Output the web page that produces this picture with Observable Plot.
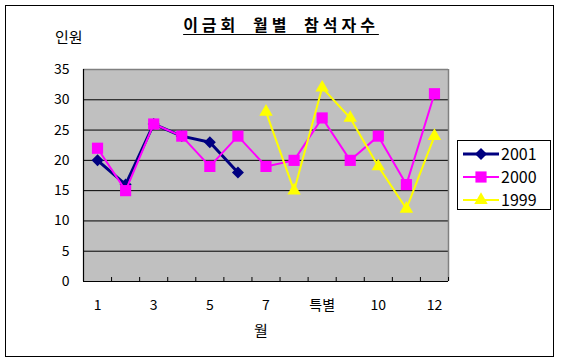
<!DOCTYPE html>
<html>
<head>
<meta charset="utf-8">
<script src="https://cdn.jsdelivr.net/npm/d3@7"></script>
<script src="https://cdn.jsdelivr.net/npm/@observablehq/plot@0.6"></script>
<style>
  html, body { margin: 0; padding: 0; background: #fff; }
  #wrap { position: relative; width: 562px; height: 363px; font-family: "Noto Sans CJK KR", "Noto Sans", sans-serif; color: #000; }
  #border { position: absolute; left: 5px; top: 5px; width: 547px; height: 350px; border: 1.5px solid #000; box-sizing: content-box; }
  .lbl { position: absolute; white-space: nowrap; line-height: 1; }
  #title { left: 0; width: 562px; text-align: center; top: 16px; font-size: 16px; font-weight: bold; }
  #title span { text-decoration: underline; text-underline-offset: 3px; letter-spacing: 4px; word-spacing: 6px; }
  #ylab { left: 55px; top: 29px; font-size: 15px; }
  #xlab { left: 254px; top: 322px; font-size: 15px; }
  #legend { position: absolute; left: 457px; top: 140px; }
  svg.plot { position: absolute; left: 0; top: 0; }
</style>
</head>
<body>
<div id="wrap">
  <div id="border"></div>
  <div id="title" class="lbl"><span>이금회 월별 참석자수</span></div>
  <div id="ylab" class="lbl">인원</div>
  <div id="xlab" class="lbl">월</div>
  <div id="chart"></div>
  <div id="legend"></div>
</div>
<script>
// ---- data ----
const categories = ["1","2","3","4","5","6","7","8","특별","9","10","11","12"];
const seriesNames = ["2001", "2000", "1999"];
const values2001 = [20, 16, 26, 24, 23, 18];
const values2000 = [22, 15, 26, 24, 19, 24, 19, 20, 27, 20, 24, 16, 31];
const values1999 = [null, null, null, null, null, null, 28, 15, 32, 27, 19, 12, 24];
const yTicks = [0, 5, 10, 15, 20, 25, 30, 35];
const xLabelIdx = [0, 2, 4, 6, 8, 10, 12];

// ---- styles ----
const styles = {
  "2001": { color: "#000080", width: 3, symbol: "diamond2", r: 5.4 },
  "2000": { color: "#FF00FF", width: 2, symbol: "square", r: 6.3 },
  "1999": { color: "#FFFF00", width: 2, symbol: "triangle", r: 5 }
};
const seriesValues = { "2001": values2001, "2000": values2000, "1999": values1999 };

const rows = name => seriesValues[name]
  .map((v, i) => ({ i, v, cat: categories[i], series: name }))
  .filter(d => d.v != null);

const boundaries = d3.range(categories.length + 1).map(i => i - 0.5);
const gridVals = yTicks.filter(t => t > 0 && t < 35);

const seriesMarks = seriesNames.flatMap(name => {
  const s = styles[name];
  return [
    Plot.line(rows(name), { x: "i", y: "v", stroke: s.color, strokeWidth: s.width, strokeLinejoin: "miter" }),
    Plot.dot(rows(name), { x: "i", y: "v", symbol: s.symbol, r: s.r, fill: s.color, stroke: "none" })
  ];
});

const chart = Plot.plot({
  width: 562,
  height: 363,
  marginLeft: 83,
  marginRight: 114,
  marginTop: 69,
  marginBottom: 82,
  style: { background: "transparent", fontFamily: "'Noto Sans CJK KR', 'Noto Sans', sans-serif", overflow: "visible" },
  x: { type: "linear", domain: [-0.5, categories.length - 0.5] },
  y: { domain: [0, 35] },
  marks: [
    Plot.frame({ fill: "#C0C0C0", stroke: "none" }),
    Plot.ruleY(gridVals, { stroke: "#000", strokeWidth: 1 }),
    Plot.ruleY([35], { stroke: "#808080", strokeWidth: 1.5 }),
    Plot.ruleX([categories.length - 0.5], { stroke: "#808080", strokeWidth: 1.5 }),
    Plot.ruleX([-0.5], { stroke: "#000", strokeWidth: 1.2 }),
    Plot.ruleY([0], { stroke: "#000", strokeWidth: 1.2 }),
    Plot.axisX({ ticks: boundaries, tickSize: -4, text: null, label: null, stroke: "#000" }),
    Plot.axisX({ ticks: xLabelIdx, tickSize: 0, tickPadding: 19, tickFormat: i => categories[i], label: null, fontSize: 14, fill: "#000" }),
    Plot.axisY({ ticks: yTicks, tickSize: 0, tickPadding: 14, label: null, fontSize: 14, fill: "#000" }),
    ...seriesMarks
  ]
});
document.getElementById("chart").appendChild(chart);

// ---- legend ----
const lw = 93, lh = 69;
const leg = d3.select("#legend").append("svg").attr("width", lw + 2).attr("height", lh + 2);
leg.append("rect").attr("x", 0.5).attr("y", 0.5).attr("width", lw).attr("height", lh)
  .attr("fill", "#fff").attr("stroke", "#000");
const symMap = { diamond2: d3.symbolDiamond2, square: d3.symbolSquare, triangle: d3.symbolTriangle };
seriesNames.forEach((name, k) => {
  const s = styles[name];
  const y = 14 + k * 23;
  const g = leg.append("g").attr("transform", `translate(0,${y})`);
  g.append("line").attr("x1", 6).attr("x2", 42).attr("y1", 0).attr("y2", 0)
    .attr("stroke", s.color).attr("stroke-width", s.width);
  g.append("path").attr("transform", "translate(24,0)")
    .attr("d", d3.symbol(symMap[s.symbol], Math.PI * s.r * s.r)()).attr("fill", s.color);
  g.append("text").attr("x", 44).attr("y", 0).attr("dy", "0.36em")
    .attr("font-family", "'Noto Sans CJK KR', 'Noto Sans', sans-serif").attr("font-size", 16)
    .text(name);
});
</script>
</body>
</html>
